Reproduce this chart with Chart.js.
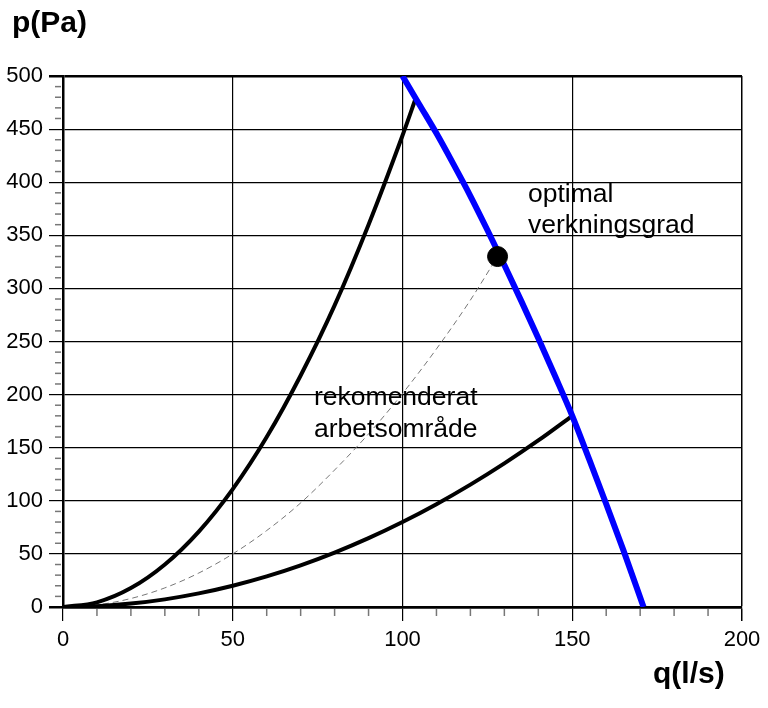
<!DOCTYPE html>
<html>
<head>
<meta charset="utf-8">
<script src="https://cdn.jsdelivr.net/npm/chart.js@4"></script>
<style>
  html, body { margin: 0; padding: 0; background: #fff; }
  #wrap { width: 768px; height: 708px; }
</style>
</head>
<body>
<div id="wrap"><canvas id="fan"></canvas></div>
<script>
// fläktkurva (blå)
var fanQ = [100, 105, 110, 115, 120, 125, 130, 135, 140, 145, 150, 155, 160, 165, 171];
var fanP = [500, 473, 446, 417, 387, 355, 322, 288, 253, 217, 180, 139, 97, 54, 0];

// övre systemkurva
var upperQ = [0, 10, 20, 30, 40, 50, 60, 70, 80, 90, 100, 104];
var upperP = [0, 4.4, 17.8, 40, 71, 111, 160, 218, 284, 360, 444, 480];

// undre systemkurva
var lowerQ = [0, 10, 20, 30, 40, 50, 60, 70, 80, 90, 100, 110, 120, 130, 140, 150];
var lowerP = [0, 0.8, 3.2, 7.2, 12.8, 20, 28.8, 39.2, 51.2, 64.8, 80, 96.8, 115.2, 135.2, 156.8, 180];

// streckad kurva genom optimum
var optQ = [0, 10, 20, 30, 40, 50, 60, 70, 80, 90, 100, 110, 120, 128];
var optP = [0, 2, 8, 18, 32, 50, 72, 98, 129, 163, 201, 243, 289, 330];

var bestQ = [128];
var bestP = [330];

var xTicks = [0, 50, 100, 150, 200];
var yTicks = [0, 50, 100, 150, 200, 250, 300, 350, 400, 450, 500];

function pts(qs, ps) {
    return qs.map(function(q, i) { return {x: q, y: ps[i]}; });
}

var FONT = "'Liberation Sans', Arial, sans-serif";

function isMajor(v, list) { return list.indexOf(v) !== -1; }

// text + minor ticks
var extras = {
    id: 'extras',
    afterDraw: function(chart) {
        var c = chart.ctx;
        var xs = chart.scales.x, ys = chart.scales.y;
        var area = chart.chartArea;
        c.save();
        c.strokeStyle = '#777';
        c.lineWidth = 1.5;
        for (var v = 0; v <= 200; v += 10) {
            if (isMajor(v, xTicks)) continue;
            var px = xs.getPixelForValue(v);
            c.beginPath(); c.moveTo(px, area.bottom + 2); c.lineTo(px, area.bottom + 9); c.stroke();
        }
        for (var w = 0; w <= 500; w += 10) {
            if (isMajor(w, yTicks)) continue;
            var py = ys.getPixelForValue(w);
            c.beginPath(); c.moveTo(area.left - 8, py); c.lineTo(area.left - 2, py); c.stroke();
        }
        c.fillStyle = '#000';
        c.textBaseline = 'alphabetic';
        c.textAlign = 'left';
        c.font = 'bold 30px ' + FONT;
        c.fillText('p(Pa)', 12, 32);
        c.fillText('q(l/s)', 653, 683);
        c.font = '26.5px ' + FONT;
        c.fillText('optimal', 528, 202);
        c.fillText('verkningsgrad', 528, 233);
        c.fillText('rekomenderat', 314, 405);
        c.fillText('arbetsområde', 314, 437);
        c.restore();
    }
};

document.addEventListener("DOMContentLoaded", function() {
    var ctx = document.getElementById("fan").getContext("2d");
    new Chart(ctx, {
        type: 'scatter',
        data: {
            datasets: [{
                label: 'optimum',
                data: pts(bestQ, bestP),
                backgroundColor: '#000',
                borderColor: '#000',
                pointRadius: 10,
                showLine: false,
                order: 0
            }, {
                label: 'fläkt',
                data: pts(fanQ, fanP),
                borderColor: '#0000ff',
                borderWidth: 6,
                pointRadius: 0,
                showLine: true,
                cubicInterpolationMode: 'monotone',
                order: 1
            }, {
                label: 'övre',
                data: pts(upperQ, upperP),
                borderColor: '#000',
                borderWidth: 4,
                pointRadius: 0,
                showLine: true,
                cubicInterpolationMode: 'monotone',
                order: 2
            }, {
                label: 'undre',
                data: pts(lowerQ, lowerP),
                borderColor: '#000',
                borderWidth: 4,
                pointRadius: 0,
                showLine: true,
                cubicInterpolationMode: 'monotone',
                order: 3
            }, {
                label: 'optimal',
                data: pts(optQ, optP),
                borderColor: '#777',
                borderWidth: 1,
                borderDash: [6, 4],
                pointRadius: 0,
                showLine: true,
                cubicInterpolationMode: 'monotone',
                order: 4
            }]
        },
        options: {
            responsive: true,
            maintainAspectRatio: false,
            animation: false,
            layout: { padding: { top: 76, right: 26, left: 0, bottom: 0 } },
            plugins: {
                legend: { display: false },
                tooltip: { enabled: false }
            },
            scales: {
                x: {
                    type: 'linear',
                    min: 0,
                    max: 200,
                    afterFit: function(s) { s.height = 101; },
                    afterBuildTicks: function(s) {
                        s.ticks = xTicks.map(function(v) { return {value: v}; });
                    },
                    ticks: {
                        color: '#000',
                        padding: 6,
                        maxRotation: 0,
                        font: { family: FONT, size: 22 }
                    },
                    border: { display: true, color: '#000', width: 2.5 },
                    grid: {
                        color: '#000',
                        tickColor: '#000',
                        tickLength: 14,
                        lineWidth: function(c) { return c.tick && c.tick.value === 200 ? 1.5 : 1.2; }
                    }
                },
                y: {
                    type: 'linear',
                    min: 0,
                    max: 500,
                    afterFit: function(s) { s.width = 63; },
                    afterBuildTicks: function(s) {
                        s.ticks = yTicks.map(function(v) { return {value: v}; });
                    },
                    ticks: {
                        color: '#000',
                        padding: 6,
                        font: { family: FONT, size: 22 }
                    },
                    border: { display: true, color: '#000', width: 2.5 },
                    grid: {
                        color: '#000',
                        tickColor: '#000',
                        tickLength: 14,
                        lineWidth: function(c) {
                            if (!c.tick) return 1.2;
                            return (c.tick.value === 500 || c.tick.value === 0) ? 2.5 : 1.2;
                        }
                    }
                }
            }
        },
        plugins: [extras]
    });
});
</script>
</body>
</html>
